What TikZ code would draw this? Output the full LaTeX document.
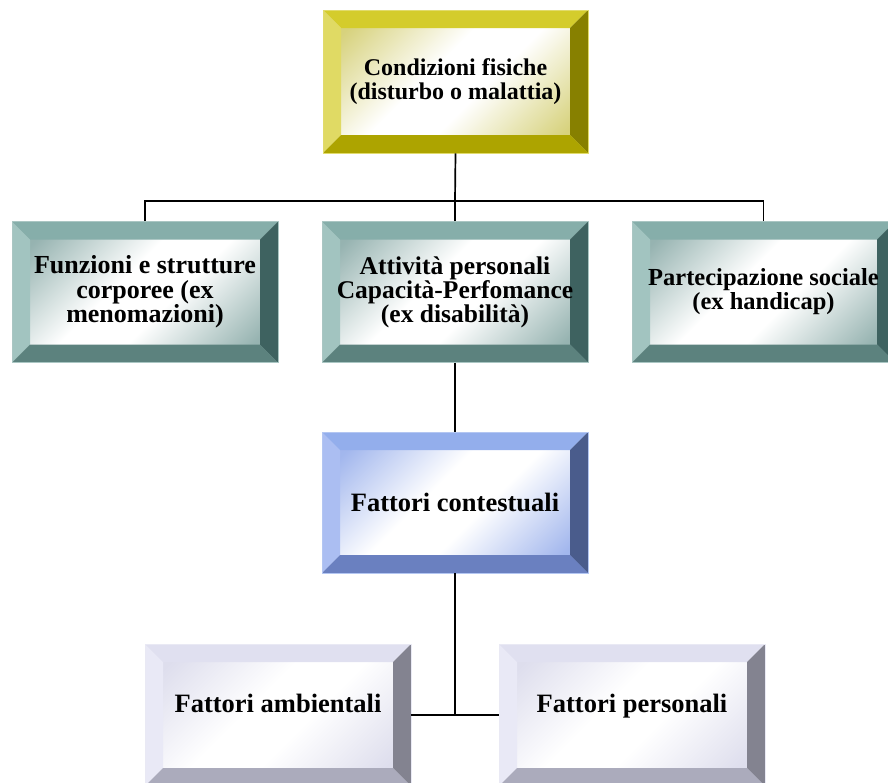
\documentclass[tikz,border=0pt]{standalone}
\usepackage{fontspec}
\setmainfont{Liberation Serif}
% yellow
\definecolor{yT}{HTML}{D4CC2C}\definecolor{yL}{HTML}{E0DA64}\definecolor{yR}{HTML}{878000}\definecolor{yB}{HTML}{ADA400}\definecolor{yF}{HTML}{D0CA66}
% teal
\definecolor{tT}{HTML}{86AEAA}\definecolor{tL}{HTML}{A2C4C0}\definecolor{tR}{HTML}{3E6260}\definecolor{tB}{HTML}{5C827E}\definecolor{tF}{HTML}{84A6A3}
% blue
\definecolor{bT}{HTML}{93AEEC}\definecolor{bL}{HTML}{ABBEF2}\definecolor{bR}{HTML}{4A5C8C}\definecolor{bB}{HTML}{6A80C0}\definecolor{bF}{HTML}{92AAEA}
% lavender
\definecolor{lT}{HTML}{E0E0F0}\definecolor{lL}{HTML}{E9E9F6}\definecolor{lR}{HTML}{838390}\definecolor{lB}{HTML}{ABABBC}\definecolor{lF}{HTML}{D8D8EA}
\pgfdeclarehorizontalshading{bandy}{100bp}{color(0bp)=(yF); color(22bp)=(yF!85!white); color(44bp)=(white); color(56bp)=(white); color(78bp)=(yF!85!white); color(100bp)=(yF)}
\pgfdeclarehorizontalshading{bandt}{100bp}{color(0bp)=(tF); color(22bp)=(tF!85!white); color(44bp)=(white); color(56bp)=(white); color(78bp)=(tF!85!white); color(100bp)=(tF)}
\pgfdeclarehorizontalshading{bandb}{100bp}{color(0bp)=(bF); color(22bp)=(bF!85!white); color(44bp)=(white); color(56bp)=(white); color(78bp)=(bF!85!white); color(100bp)=(bF)}
\pgfdeclarehorizontalshading{bandl}{100bp}{color(0bp)=(lF); color(22bp)=(lF!85!white); color(44bp)=(white); color(56bp)=(white); color(78bp)=(lF!85!white); color(100bp)=(lF)}
\begin{document}
\begin{tikzpicture}[x=1pt,y=-1pt,
  bevel/.style={minimum width=266pt, minimum height=141pt, inner sep=0pt,
    shade, shading=band#1, shading angle=-45,
    draw=#1T!70!white, line width=0.6pt, align=center,
    path picture={
      \coordinate (nw) at (path picture bounding box.north west);
      \coordinate (ne) at (path picture bounding box.north east);
      \coordinate (sw) at (path picture bounding box.south west);
      \coordinate (se) at (path picture bounding box.south east);
      \fill[#1T] (nw) -- (ne) -- ([shift={(-18,18)}]ne) -- ([shift={(18,18)}]nw) -- cycle;
      \fill[#1L] (nw) -- ([shift={(18,18)}]nw) -- ([shift={(18,-18)}]sw) -- (sw) -- cycle;
      \fill[#1R] (ne) -- (se) -- ([shift={(-18,-18)}]se) -- ([shift={(-18,18)}]ne) -- cycle;
      \fill[#1B] (sw) -- (se) -- ([shift={(-18,-18)}]se) -- ([shift={(18,-18)}]sw) -- cycle;
    }},
  txt/.style 2 args={font=\fontsize{#1}{#2}\selectfont\bfseries},
  conn/.style={draw=black, line width=1.7pt}]
\useasboundingbox (0,0) rectangle (888,782);
\clip (0,0) rectangle (888,782);

\node[bevel=y, txt={24}{23.5}, minimum width=265pt, minimum height=143pt] (top) at (455.5,81.5) {Condizioni fisiche\\(disturbo o malattia)};

\node[bevel=t, txt={26}{24.5}] (f1) at (145,292) {Funzioni e strutture\\corporee (ex\\menomazioni)};
\node[bevel=t, txt={25.5}{24}] (f2) at (455,292) {Attività personali\\Capacità-Perfomance\\(ex disabilità)};
\node[bevel=t, txt={24.5}{24}, minimum width=263pt] (f3) at (763.5,292) {Partecipazione sociale\\(ex handicap)};

\node[bevel=b, txt={26.5}{24}] (ctx) at (455,502.5) {Fattori contestuali};

\node[bevel=l, txt={26.5}{24}, minimum height=142pt, text height=19pt, text depth=24pt] (amb) at (278,715) {Fattori ambientali};
\node[bevel=l, txt={26.5}{24}, minimum height=142pt, text height=19pt, text depth=24pt] (per) at (632,715) {Fattori personali};

\coordinate (bus) at (455,201);
\draw[conn] (top.south) -- (bus);
\draw[conn] (f1.north) |- (bus);
\draw[conn] (f3.north) |- (bus);
\draw[conn] (f2.north) -- (bus);
\draw[conn] (f2.south) -- (ctx.north);
\draw[conn] (ctx.south) -- (ctx.south |- amb.east);
\draw[conn] (amb.east) -- (per.west);
\end{tikzpicture}
\end{document}
